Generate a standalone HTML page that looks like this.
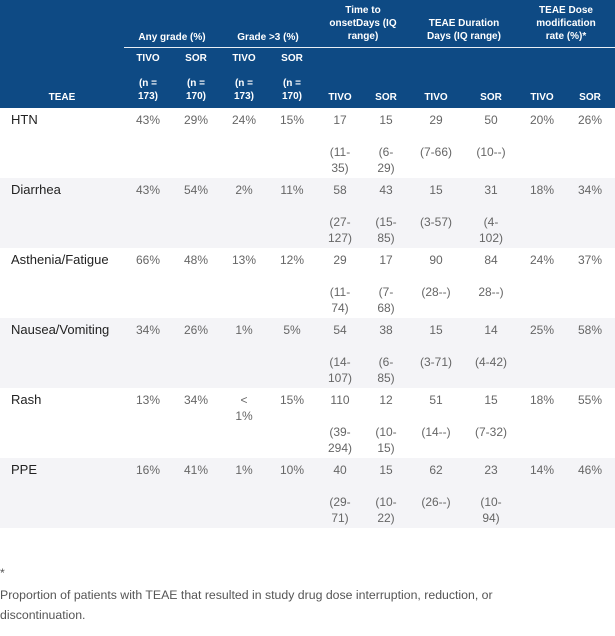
<!DOCTYPE html>
<html><head><meta charset="utf-8"><style>
body{margin:0;width:615px;height:636px;background:#fff;position:relative;overflow:hidden;font-family:"Liberation Sans",sans-serif;}
.hd{position:absolute;left:0;top:0;width:615px;height:108px;background:#0e4a84;}
.hl{position:absolute;left:124px;top:47px;width:491px;height:1px;background:#e8eef5;}
.bg{position:absolute;left:0;width:615px;height:70px;background:#f4f4f7;}
.h{position:absolute;width:90px;margin-left:-45px;text-align:center;color:#fff;font-weight:bold;font-size:10px;line-height:13px;}
.c{position:absolute;width:50px;margin-left:-25px;text-align:center;color:#666;font-size:12px;line-height:16px;}
.l{position:absolute;left:11px;color:#222;font-size:13px;line-height:16px;}
.f{position:absolute;left:0;color:#555;font-size:12.3px;line-height:16px;}
</style></head><body>
<div class="hd"></div><div class="hl"></div>
<div class="h" style="left:172px;top:31px">Any grade (%)</div>
<div class="h" style="left:268px;top:31px">Grade &gt;3 (%)</div>
<div class="h" style="left:363px;top:4px">Time to<br>onsetDays (IQ<br>range)</div>
<div class="h" style="left:464px;top:17px">TEAE Duration<br>Days (IQ range)</div>
<div class="h" style="left:566px;top:4px">TEAE Dose<br>modification<br>rate (%)*</div>
<div class="h" style="left:148px;top:52px">TIVO</div><div class="h" style="left:196px;top:52px">SOR</div>
<div class="h" style="left:244px;top:52px">TIVO</div><div class="h" style="left:292px;top:52px">SOR</div>
<div class="h" style="left:148px;top:77px">(n =<br>173)</div><div class="h" style="left:196px;top:77px">(n =<br>170)</div>
<div class="h" style="left:244px;top:77px">(n =<br>173)</div><div class="h" style="left:292px;top:77px">(n =<br>170)</div>
<div class="h" style="left:62px;top:91px">TEAE</div>
<div class="h" style="left:340px;top:91px">TIVO</div><div class="h" style="left:386px;top:91px">SOR</div>
<div class="h" style="left:436px;top:91px">TIVO</div><div class="h" style="left:491px;top:91px">SOR</div>
<div class="h" style="left:542px;top:91px">TIVO</div><div class="h" style="left:590px;top:91px">SOR</div>

<div class="bg" style="top:178px"></div><div class="bg" style="top:318px"></div><div class="bg" style="top:458px"></div>

<div id="rows"></div>
<script>
var R=[["HTN","43%","29%","24%","15%","17","15","29","50","20%","26%","(11-<br>35)","(6-<br>29)","(7-66)","(10--)"],
["Diarrhea","43%","54%","2%","11%","58","43","15","31","18%","34%","(27-<br>127)","(15-<br>85)","(3-57)","(4-<br>102)"],
["Asthenia/Fatigue","66%","48%","13%","12%","29","17","90","84","24%","37%","(11-<br>74)","(7-<br>68)","(28--)","28--)"],
["Nausea/Vomiting","34%","26%","1%","5%","54","38","15","14","25%","58%","(14-<br>107)","(6-<br>85)","(3-71)","(4-42)"],
["Rash","13%","34%","&lt;<br>1%","15%","110","12","51","15","18%","55%","(39-<br>294)","(10-<br>15)","(14--)","(7-32)"],
["PPE","16%","41%","1%","10%","40","15","62","23","14%","46%","(29-<br>71)","(10-<br>22)","(26--)","(10-<br>94)"]];
var X=[148,196,244,292,340,386,436,491,542,590],h="";
R.forEach(function(r,i){var t=108+i*70;
h+='<div class="l" style="top:'+(t+4)+'px">'+r[0]+'</div>';
for(var j=0;j<10;j++)h+='<div class="c" style="left:'+X[j]+'px;top:'+(t+4)+'px">'+r[j+1]+'</div>';
for(var k=0;k<4;k++)h+='<div class="c" style="left:'+X[4+k]+'px;top:'+(t+36)+'px">'+r[11+k]+'</div>';});
document.getElementById("rows").innerHTML=h;
</script>
<div class="f" style="top:565px">*</div>
<div class="f" style="top:587px">Proportion of patients with TEAE that resulted in study drug dose interruption, reduction, or</div>
<div class="f" style="top:607px">discontinuation.</div>
</body></html>
